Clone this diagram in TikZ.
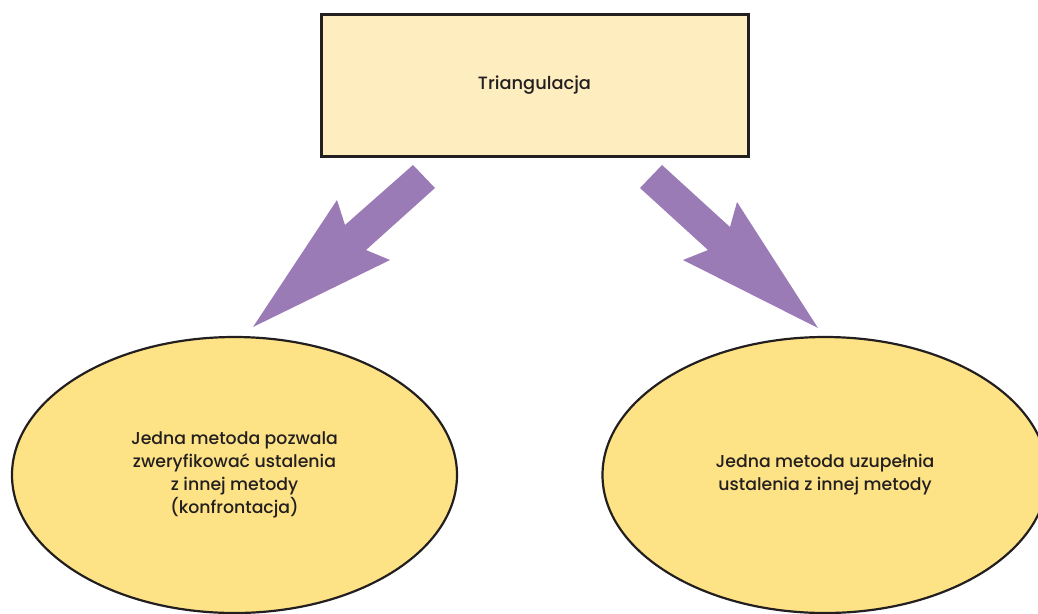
\documentclass[tikz,border=0pt]{standalone}
\usepackage{fontspec}
\setmainfont{Poppins}[UprightFont=* Medium]
\usetikzlibrary{shapes.geometric}
\definecolor{boxfill}{HTML}{FEEEBF}
\definecolor{ovalfill}{HTML}{FDE385}
\definecolor{arrowpurple}{HTML}{9B7BB6}
\definecolor{ink}{HTML}{231F20}
\tikzset{
  labeltext/.style={font=\fontsize{17.3}{23}\selectfont, text=ink, align=center},
  topbox/.style={draw=ink, line width=3pt, fill=boxfill, minimum width=427pt, minimum height=142pt, inner sep=0pt, text=ink, font=\fontsize{17.8}{23}\selectfont},
  oval/.style={ellipse, draw=ink, line width=2.2pt, fill=ovalfill, minimum width=445pt, minimum height=276pt, inner sep=0pt, labeltext},
  blockarrow/.style={fill=arrowpurple, draw=none}
}
\begin{document}
\begin{tikzpicture}[x=1pt, y=-1pt]
\useasboundingbox (0,0) rectangle (1038,613);
\node[topbox] (tri) at (534.5,85) {Triangulacja};
\node[oval] (conf) at (234.5,475) {Jedna metoda pozwala\\zweryfikować ustalenia\\z innej metody\\(konfrontacja)};
\node[oval] (compl) at (825,475) {Jedna metoda uzupełnia\\ustalenia z innej metody};
% block arrows from the box down to the two ovals
\fill[blockarrow] (413,165) -- (435,188) -- (366,250) -- (390,260) -- (253,327) -- (337,200) -- (345,225) -- cycle;
\fill[blockarrow] (662,165) -- (640,188) -- (708,250) -- (683,260) -- (818,328) -- (737,202) -- (730,227) -- cycle;
\end{tikzpicture}
\end{document}
